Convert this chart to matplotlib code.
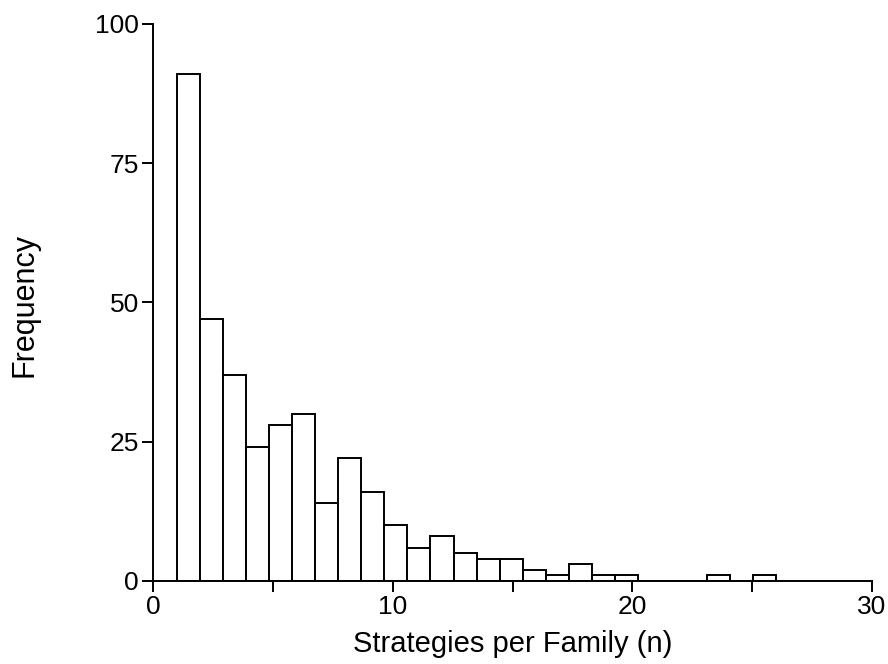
import numpy as np
import matplotlib
matplotlib.use("Agg")
import matplotlib.pyplot as plt

plt.rcParams['font.family'] = ['Liberation Sans', 'DejaVu Sans']

# histogram counts, 26 bins spanning 1..26
counts = [91, 47, 37, 24, 28, 30, 14, 22, 16, 10, 6, 8, 5, 4, 4, 2, 1, 3, 1, 1, 0, 0, 0, 1, 0, 1]
bin_lo, bin_hi = 1, 26
xticks = [0, 5, 10, 15, 20, 25, 30]
xticklabels = ["0", "", "10", "", "20", "", "30"]
yticks = [0, 25, 50, 75, 100]

edges = np.linspace(bin_lo, bin_hi, len(counts) + 1)
width = edges[1] - edges[0]

fig = plt.figure(figsize=(8.88, 6.64), dpi=100)
ax = fig.add_axes([0.1723, 0.125, 0.8097, 0.839])

ax.bar(edges[:-1], counts, width=width, align='edge', color='white',
       edgecolor='black', linewidth=1.4)

ax.set_xlim(0, 30)
ax.set_ylim(0, 100)
ax.set_xticks(xticks)
ax.set_xticklabels(xticklabels)
ax.set_yticks(yticks)
ax.tick_params(axis='both', direction='out', length=8, width=1.4, labelsize=19, pad=2)

for s in ['top', 'right']:
    ax.spines[s].set_visible(False)
for s in ['left', 'bottom']:
    ax.spines[s].set_linewidth(1.4)

ax.set_xlabel("Strategies per Family (n)", fontsize=21)
ax.set_ylabel("Frequency", fontsize=22)
ax.xaxis.set_label_coords(0.5, -0.088)
ax.yaxis.set_label_coords(-0.158, 0.495)

fig.savefig("out.png", dpi=100)
